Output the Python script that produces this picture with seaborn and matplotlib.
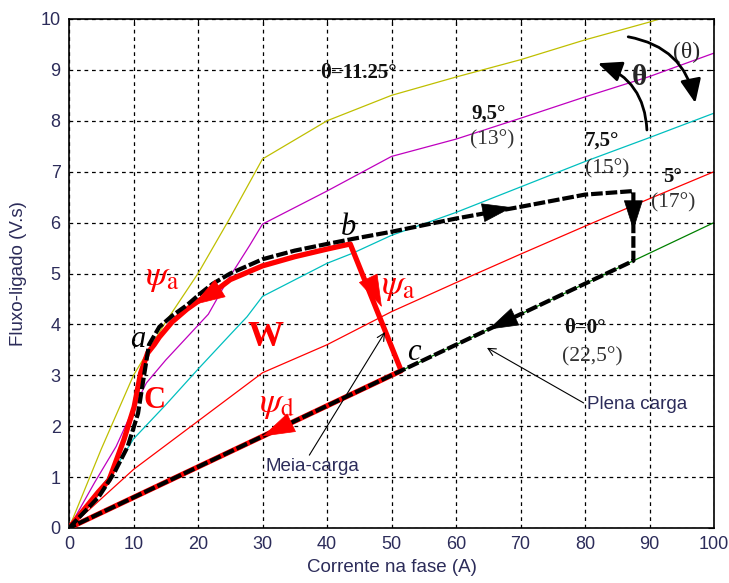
import matplotlib
matplotlib.use("Agg")
import matplotlib.pyplot as plt
import numpy as np
import pandas as pd
import seaborn as sns

# Magnetization curves: phase current (A) vs flux linkage (V.s) per rotor position
i_11 = [0, 5, 10, 15, 20, 25, 30, 40, 50, 60, 70, 80, 90, 91.5]
psi_11 = [0, 1.55, 3.0, 4.05, 5.0, 6.1, 7.25, 8.0, 8.5, 8.86, 9.2, 9.59, 9.94, 10.0]

i_95 = [0, 4, 7.3, 10, 12, 15, 19.4, 21.6, 24.5, 28, 30, 40, 50, 60, 70, 80, 90, 100]
psi_95 = [0, 0.9, 1.6, 2.35, 2.85, 3.3, 3.9, 4.2, 4.85, 5.55, 5.97, 6.62, 7.3, 7.64, 8.05, 8.47, 8.87, 9.33]

i_75 = [0, 7, 10, 15, 20, 25, 27.6, 30, 40, 44, 50, 60, 70, 80, 90, 100]
psi_75 = [0, 1.14, 1.75, 2.42, 3.12, 3.8, 4.15, 4.55, 5.2, 5.4, 5.75, 6.2, 6.7, 7.2, 7.67, 8.15]

i_5 = [0, 10, 20, 30, 40, 50, 60, 70, 80, 90, 100]
psi_5 = [0, 1.15, 2.1, 3.05, 3.6, 4.25, 4.82, 5.38, 5.93, 6.47, 7.0]

i_0 = [0, 100]
psi_0 = [0, 6.0]

# Energy-conversion loops
i_full = [0, 4.6, 7, 9.1, 10.7, 11.6, 12.4, 14, 16, 18.3, 20.3, 22.3, 25, 30, 35, 40, 44, 50,
          60, 70, 80, 87.5, 87.5, 51.5, 0]
psi_full = [0, 0.61, 1.08, 1.6, 2.25, 2.97, 3.6, 3.95, 4.17, 4.38, 4.6, 4.8, 5.0, 5.28, 5.45,
            5.58, 5.68, 5.82, 6.08, 6.31, 6.55, 6.62, 5.25, 3.09, 0]

i_half = [0, 4.5, 6.2, 8.5, 10.1, 11.1, 12.2, 13.2, 14, 16, 18.3, 20.3, 22.3, 25, 30, 35, 40,
          43.6, 51.5, 0]
psi_half = [0, 0.7, 0.94, 1.73, 2.38, 3.04, 3.44, 3.6, 3.75, 4.05, 4.3, 4.48, 4.62, 4.88, 5.15,
            5.33, 5.48, 5.58, 3.09, 0]

curve_names = ["11.25", "9.5", "7.5", "5", "0"]
curve_colors = [(0.75, 0.75, 0), (0.75, 0, 0.75), (0, 0.75, 0.75), (1, 0, 0), (0, 0.5, 0)]

x_ticks = list(range(0, 101, 10))
y_ticks = list(range(0, 11))

curves = pd.concat([
    pd.DataFrame({"i": xs, "psi": ys, "curva": name})
    for name, xs, ys in zip(curve_names, [i_11, i_95, i_75, i_5, i_0],
                            [psi_11, psi_95, psi_75, psi_5, psi_0])
])
full_df = pd.DataFrame({"i": i_full, "psi": psi_full})
half_df = pd.DataFrame({"i": i_half, "psi": psi_half})

sns.set_style("white")
plt.rcParams["font.family"] = ["Liberation Sans", "DejaVu Sans"]
plt.rcParams["mathtext.fontset"] = "stix"

navy = "#2c2c5a"
fig = plt.figure(figsize=(7.29, 5.83), dpi=100)
ax = fig.add_axes([69 / 729, 55 / 583, 645 / 729, 509 / 583])

sns.lineplot(data=curves, x="i", y="psi", hue="curva", hue_order=curve_names,
             palette=curve_colors, units="curva", estimator=None, sort=False,
             linewidth=0.9, legend=False, ax=ax, zorder=2)
sns.lineplot(data=half_df, x="i", y="psi", sort=False, estimator=None,
             color="red", linewidth=3.8, ax=ax, zorder=3, solid_joinstyle="round")
sns.lineplot(data=full_df, x="i", y="psi", sort=False, estimator=None,
             color="black", linewidth=3.0, linestyle=(0, (2.8, 0.7)), ax=ax, zorder=4)

ax.set_xlim(0, 100)
ax.set_ylim(0, 10)
ax.set_xticks(x_ticks)
ax.set_yticks(y_ticks)
ax.set_axisbelow(True)
ax.grid(True, color="black", linestyle=(0, (3, 3)), linewidth=0.9)
for s in ax.spines.values():
    s.set_color("black")
    s.set_linewidth(1.2)
ax.tick_params(direction="in", length=4, top=True, right=True, labelsize=13,
               labelcolor=navy, color="black", pad=6)
ax.set_xlabel("Corrente na fase (A)", fontsize=13.5, color=navy, labelpad=4)
ax.set_ylabel("Fluxo-ligado (V.s)", fontsize=13.5, color=navy, labelpad=10)


def head(tip, back, color, scale=24):
    ax.annotate("", xy=tip, xytext=back, zorder=6,
                arrowprops=dict(arrowstyle="-|>,head_length=0.85,head_width=0.27",
                                color=color, lw=0.5, mutation_scale=scale,
                                shrinkA=0, shrinkB=0))


# direction arrows on the loops
head((68.7, 6.30), (64.0, 6.19), "black")
head((87.5, 5.85), (87.5, 6.30), "black")
head((65.0, 3.90), (69.0, 4.14), "black")
head((30.0, 1.80), (34.0, 2.04), "red", 26)
head((48.5, 4.34), (46.6, 4.85), "red", 26)
head((19.2, 4.38), (22.3, 4.62), "red", 26)

serif = ["Liberation Serif", "DejaVu Serif"]
tb = dict(family=serif, fontsize=15, fontweight="bold", color="#111111",
          ha="center", va="center", zorder=7)
tr = dict(family=serif, fontsize=15.5, color="#333333", ha="center", va="center", zorder=7)
ax.text(44.8, 8.94, "θ=11.25°", **tb)
ax.text(65.0, 8.15, "9,5°", **tb)
ax.text(65.6, 7.62, "(13°)", **tr)
ax.text(82.6, 7.62, "7,5°", **tb)
ax.text(83.4, 7.05, "(15°)", **tr)
ax.text(93.5, 6.90, "5°", **tb)
ax.text(93.7, 6.38, "(17°)", **tr)
ax.text(80.0, 3.93, "θ=0°", **tb)
ax.text(81.2, 3.36, "(22,5°)", **tr)
ax.text(88.5, 8.86, "θ", family=serif, fontsize=21, fontweight="bold", ha="center", va="center")
ax.text(95.8, 9.35, "(θ)", family=serif, fontsize=17, ha="center", va="center")

# rotor-angle direction arrows
ax.annotate("", xy=(82.0, 9.13), xytext=(89.6, 7.82),
            arrowprops=dict(arrowstyle="-|>,head_length=0.8,head_width=0.35",
                            color="black", lw=2, mutation_scale=18,
                            connectionstyle="arc3,rad=0.33", shrinkA=0, shrinkB=0))
ax.annotate("", xy=(97.1, 8.35), xytext=(86.7, 9.65),
            arrowprops=dict(arrowstyle="-|>,head_length=0.8,head_width=0.35",
                            color="black", lw=2, mutation_scale=18,
                            connectionstyle="arc3,rad=-0.34", shrinkA=0, shrinkB=0))

# loop point labels
ti = dict(family=serif, fontsize=22, style="italic", color="black", ha="center", va="center", zorder=7)
ax.text(10.7, 3.71, "a", **ti)
ax.text(43.3, 5.91, "b", **ti)
ax.text(53.4, 3.44, "c", **ti)

red = dict(color="red", ha="center", va="center", zorder=7)
ax.text(14.4, 4.95, r"$\psi_\mathrm{a}$", fontsize=26, **red)
ax.text(51.0, 4.77, r"$\psi_\mathrm{a}$", fontsize=26, **red)
ax.text(32.2, 2.44, r"$\psi_\mathrm{d}$", fontsize=26, **red)
ax.text(30.5, 3.75, "W", family=serif, fontsize=26, fontweight="bold", **red)
ax.text(13.2, 2.51, "C", family=serif, fontsize=22, fontweight="bold", **red)

# load annotations
ax.annotate("Meia-carga", xy=(49.0, 3.85), xytext=(30.4, 1.2), fontsize=13.5, color=navy,
            ha="left", va="center",
            arrowprops=dict(arrowstyle="->", color="black", lw=0.8, shrinkA=0, shrinkB=0,
                            relpos=(0.45, 1.0)))
ax.annotate("Plena carga", xy=(64.8, 3.54), xytext=(80.3, 2.42), fontsize=13.5, color=navy,
            ha="left", va="center",
            arrowprops=dict(arrowstyle="->", color="black", lw=0.8, shrinkA=0, shrinkB=0,
                            relpos=(0.0, 0.5)))

fig.savefig("out.png", dpi=100)
